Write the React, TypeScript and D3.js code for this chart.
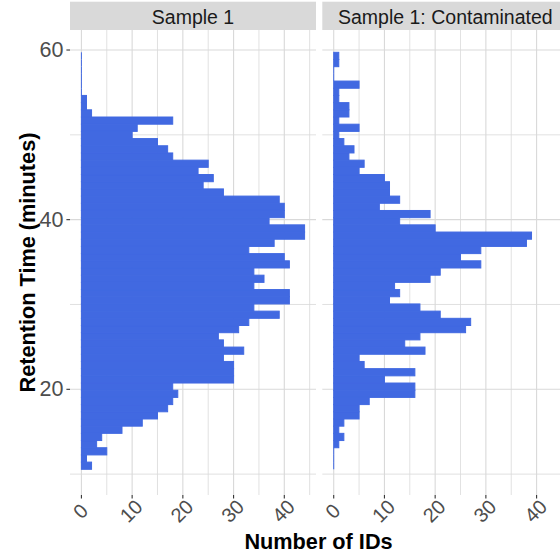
import React from "react";
import * as d3 from "d3";

const width = 560;
const height = 556;

// histogram bins (retention time, minutes), lowest bin first
const binStart = 10.57;
const binWidth = 0.8476;

const sample1Counts = [
  2, 1, 5, 3, 4, 8, 12, 15, 17, 18, 19, 18, 30, 30, 30, 28, 32, 28, 27, 31,
  33, 39, 34, 41, 41, 34, 36, 34, 41, 40, 33, 38, 44, 44, 37, 40, 40, 39, 28, 24,
  26, 23, 25, 18, 17, 15, 10, 11, 18, 2, 1, 1, 0, 0, 0, 0, 0, 0,
];

const contaminatedCounts = [
  0, 0, 0, 1, 2, 1, 2, 5, 5, 7, 16, 16, 10, 16, 6, 5, 18, 14, 17, 26,
  27, 21, 17, 11, 13, 12, 19, 21, 29, 25, 29, 38, 39, 20, 13, 19, 9, 13, 11, 11,
  10, 5, 6, 3, 4, 2, 1, 5, 1, 3, 3, 1, 1, 5, 0, 0, 1, 1,
];

const panelNames = ["Sample 1", "Sample 1: Contaminated"];
const panelCounts = [sample1Counts, contaminatedCounts];

const xTicks = [0, 10, 20, 30, 40];
const xMinor = [5, 15, 25, 35, 45];
const yTicks = [20, 40, 60];
const yMinor = [10, 30, 50];

const panelLefts = [70, 322.3];
const panelW = 246;
const panelTop = 30;
const panelBottom = 495;
const stripTop = 1.7;

const font = "'Liberation Sans', Arial, Helvetica, sans-serif";
const barColor = "#4169E1";
const gridColor = "#D9D9D9";

const App = () => {
  const y = d3.scaleLinear().domain([7.54, 62.36]).range([panelBottom, panelTop]);

  return (
    <svg
      width={width}
      height={height}
      style={{ position: "absolute", left: 0, top: 0, background: "#fff" }}
      fontFamily={font}
    >
      {panelNames.map((name, p) => {
        const left = panelLefts[p];
        const x = d3.scaleLinear().domain([-2.25, 46.25]).range([left, left + panelW]);
        const counts = panelCounts[p];
        return (
          <g key={name}>
            <rect x={left} y={stripTop} width={panelW} height={panelTop - stripTop} fill="#D9D9D9" />
            <text
              x={left + panelW / 2}
              y={(stripTop + panelTop) / 2 + 1}
              textAnchor="middle"
              dominantBaseline="central"
              fontSize={19.5}
              fill="#1A1A1A"
            >
              {name}
            </text>

            {yMinor.map((v) => (
              <line key={"ym" + v} x1={left} x2={left + panelW} y1={y(v)} y2={y(v)} stroke={gridColor} strokeWidth={0.8} />
            ))}
            {xMinor.map((v) => (
              <line key={"xm" + v} x1={x(v)} x2={x(v)} y1={panelTop} y2={panelBottom} stroke={gridColor} strokeWidth={0.8} />
            ))}
            {yTicks.map((v) => (
              <line key={"yg" + v} x1={left} x2={left + panelW} y1={y(v)} y2={y(v)} stroke={gridColor} strokeWidth={1.1} />
            ))}
            {xTicks.map((v) => (
              <line key={"xg" + v} x1={x(v)} x2={x(v)} y1={panelTop} y2={panelBottom} stroke={gridColor} strokeWidth={1.1} />
            ))}

            {counts.map((c, i) => {
              const lo = binStart + i * binWidth;
              const hi = lo + binWidth;
              if (c === 0) {
                // empty bins still show their outline as a thin line
                return (
                  <line key={i} x1={x(0)} x2={x(0)} y1={y(hi)} y2={y(lo)} stroke={barColor} strokeWidth={1} />
                );
              }
              return (
                <rect
                  key={i}
                  x={x(0)}
                  y={y(hi)}
                  width={x(c) - x(0)}
                  height={y(lo) - y(hi)}
                  fill={barColor}
                  stroke={barColor}
                  strokeWidth={1}
                />
              );
            })}

            {xTicks.map((v) => (
              <g key={"xt" + v}>
                <line x1={x(v)} x2={x(v)} y1={panelBottom} y2={panelBottom + 3.6} stroke="#333333" strokeWidth={1.1} />
                <text
                  transform={`translate(${x(v) - 1},${panelBottom + 16}) rotate(-45)`}
                  textAnchor="middle"
                  dominantBaseline="central"
                  fontSize={20}
                  fill="#4D4D4D"
                >
                  {v}
                </text>
              </g>
            ))}
          </g>
        );
      })}

      {yTicks.map((v) => (
        <g key={"yt" + v}>
          <line x1={panelLefts[0] - 3.6} x2={panelLefts[0]} y1={y(v)} y2={y(v)} stroke="#333333" strokeWidth={1.1} />
          <text
            x={panelLefts[0] - 6.5}
            y={y(v)}
            textAnchor="end"
            dominantBaseline="central"
            fontSize={21.5}
            fill="#4D4D4D"
          >
            {v}
          </text>
        </g>
      ))}

      <text
        transform={`translate(27,${(panelTop + panelBottom) / 2}) rotate(-90)`}
        textAnchor="middle"
        dominantBaseline="central"
        fontSize={21.7}
        fontWeight="bold"
        fill="#000"
      >
        Retention Time (minutes)
      </text>
      <text x={318.5} y={548.5} textAnchor="middle" fontSize={21.7} fontWeight="bold" fill="#000">
        Number of IDs
      </text>
    </svg>
  );
};

export default App;
